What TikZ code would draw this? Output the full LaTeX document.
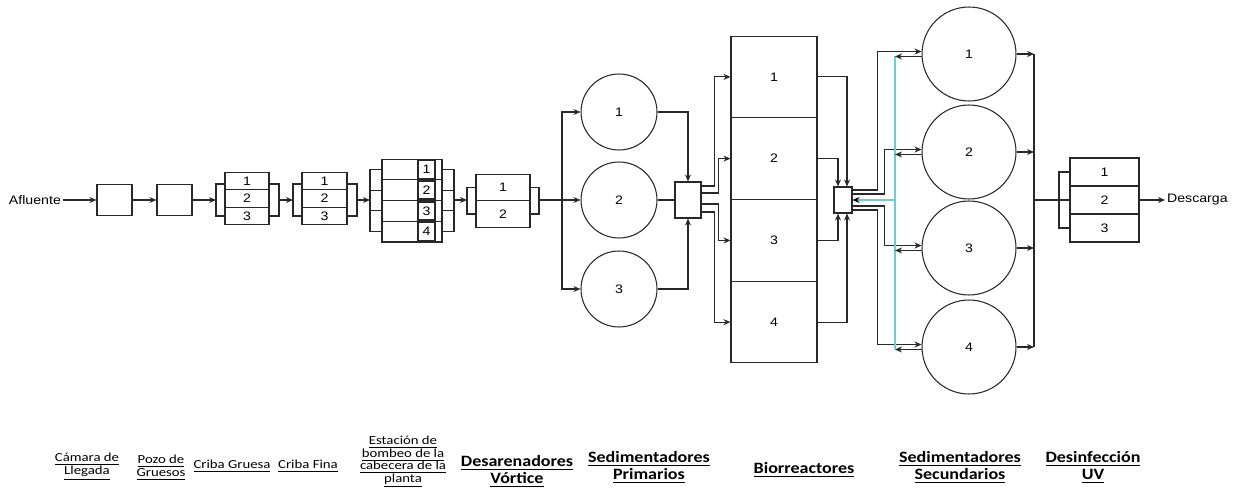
\documentclass[tikz,border=0pt]{standalone}
\usepackage{fontspec}
\usetikzlibrary{arrows.meta, positioning, calc}
\newfontfamily\diafont[FakeStretch=1.15]{Liberation Sans}
\newfontfamily\lblfont[FakeStretch=1.2]{Carlito}
\newfontfamily\lblbigfont[FakeStretch=1.14]{Carlito}
\definecolor{pipegray}{RGB}{40,40,40}
\definecolor{recycyan}{RGB}{110,205,205}

\tikzset{
  pipe/.style={draw=pipegray, line width=0.6pt},
  flow/.style={pipe, -{Stealth[length=4pt,width=3.4pt]}},
  recyc/.style={draw=recycyan, line width=0.9pt},
  txt/.style={inner sep=1pt, font=\diafont\fontsize{7}{8}\selectfont},
  cell/.style={draw=pipegray, line width=0.6pt, inner sep=0pt, font=\diafont\fontsize{7}{8}\selectfont},
  numcell/.style={cell, line width=1pt, minimum width=0.34cm, minimum height=0.36cm},
  tankc/.style={cell, circle, minimum size=#1},
  stagelbl/.style={anchor=north, align=center, inner sep=0pt, font=\lblfont\fontsize{7}{7.1}\selectfont},
  stagebig/.style={anchor=north, align=center, inner sep=0pt, font=\lblbigfont\bfseries\fontsize{9}{9.6}\selectfont},
}

\begin{document}
\begin{tikzpicture}[x=0.02cm, y=-0.02cm]
\useasboundingbox (0,0) rectangle (1234,490);

% camara de llegada y pozo de gruesos
\node[txt, anchor=east] (afl) at (63,200) {Afluente};
\node[cell, minimum width=0.7cm, minimum height=0.62cm] (cam) at (114.5,200) {};
\node[cell, minimum width=0.7cm, minimum height=0.62cm] (poz) at (174.5,200) {};
\draw[flow] (afl) -- (cam);
\draw[flow] (cam) -- (poz);

% cribas
\foreach \i/\y in {1/181,2/198.5,3/216}{
  \node[cell, minimum width=0.88cm, minimum height=0.35cm] (cg\i) at (247,\y) {\i};
  \node[cell, minimum width=0.9cm, minimum height=0.35cm] (cf\i) at (324.5,\y) {\i};
}
\coordinate (cgin) at (216,200);
\coordinate (cgout) at (279,200);
\coordinate (cfin) at (293,200);
\coordinate (cfout) at (357,200);
\draw[pipe] (225,184) -| (cgin) |- (225,216);
\draw[pipe] (269,184) -| (cgout) |- (269,216);
\draw[pipe] (302,184) -| (cfin) |- (302,216);
\draw[pipe] (347,184) -| (cfout) |- (347,216);
\draw[flow] (poz) -- (cgin);
\draw[flow] (cgout) -- (cfin);

% bombeo
\foreach \i/\y in {1/169.4,2/190.1,3/210.9,4/231.6}{
  \node[cell, minimum width=1.2cm, minimum height=0.415cm] (bb\i) at (412,\y) {};
  \node[numcell] (bn\i) at (426.5,\y) {\i};
  \draw[pipe] (bb\i.west) -- ++(-12,0) (bb\i.east) -- ++(12,0);
}
\coordinate (bbin) at (370,200);
\coordinate (bbout) at (454,200);
\draw[pipe] (bb1.west -| bbin) -- (bb4.west -| bbin);
\draw[pipe] (bb1.east -| bbout) -- (bb4.east -| bbout);
\draw[flow] (cfout) -- (bbin);

% desarenadores
\foreach \i/\y in {1/187.5,2/214}
  \node[cell, minimum width=1.08cm, minimum height=0.53cm] (ds\i) at (503,\y) {\i};
\coordinate (dsin) at (467,200);
\coordinate (dsout) at (539,200);
\draw[pipe] (ds1.west) -| (dsin) |- (ds2.west);
\draw[pipe] (ds1.east) -| (dsout) |- (ds2.east);
\draw[flow] (bbout) -- (dsin);

% sedimentadores primarios
\coordinate (sp) at (562,200);
\foreach \i/\y in {1/112,2/200,3/289}
  \node[tankc=1.52cm] (ps\i) at (619,\y) {\i};
\draw[pipe] (dsout) -- (sp);
\draw[flow] (sp) -- (ps2);
\draw[flow] (sp) |- (ps1);
\draw[flow] (sp) |- (ps3);
\node[cell, minimum width=0.52cm, minimum height=0.72cm] (mx1) at (688,200) {};
\draw[flow] (ps1) -| (mx1);
\draw[pipe] (ps2) -- (mx1);
\draw[flow] (ps3) -| (mx1);

% biorreactores
\foreach \i/\y in {1/76.9,2/158.6,3/240.4,4/322.1}
  \node[cell, minimum width=1.72cm, minimum height=1.635cm] (bio\i) at (774,\y) {\i};
\draw[flow] (mx1.east |- 0,186) -- ++(13,0) |- (bio1);
\draw[flow] (mx1.east |- 0,193) -- ++(17,0) |- (bio2);
\draw[flow] (mx1.east |- 0,204) -- ++(17,0) |- (bio3);
\draw[flow] (mx1.east |- 0,212) -- ++(13,0) |- (bio4);
\node[cell, minimum width=0.36cm, minimum height=0.52cm] (mx2) at (843,200) {};
\draw[flow] (bio1) -| ([xshift=0.08cm]mx2.north);
\draw[flow] (bio2) -| ([xshift=-0.1cm]mx2.north);
\draw[flow] (bio3) -| ([xshift=-0.1cm]mx2.south);
\draw[flow] (bio4) -| ([xshift=0.08cm]mx2.south);

% sedimentadores secundarios
\foreach \i/\y in {1/54,2/152,3/248,4/347}
  \node[tankc=1.88cm] (ss\i) at (969,\y) {\i};
\draw[flow] (mx2.east |- 0,190) -- ++(25,0) |- (ss1.177);
\draw[flow] (mx2.east |- 0,194) -- ++(32,0) |- (ss2.177);
\draw[flow] (mx2.east |- 0,206) -- ++(32,0) |- (ss3.177);
\draw[flow] (mx2.east |- 0,210) -- ++(25,0) |- (ss4.177);
\coordinate (rc) at (895,200);
\draw[recyc] (ss1.183 -| rc) -- (ss4.183 -| rc);
\draw[recyc, -{Stealth[length=4pt,width=3.4pt,black]}] (rc) -- (mx2);
\foreach \i in {1,...,4}
  \draw[flow] (ss\i.183) -- (ss\i.183 -| rc);

% desinfeccion UV
\coordinate (col) at (1034,200);
\foreach \i in {1,...,4}
  \draw[flow] (ss\i) -- (ss\i -| col);
\draw[pipe] (ss1 -| col) -- (ss4 -| col);
\foreach \i/\y in {1/172,2/200,3/228}
  \node[cell, minimum width=1.38cm, minimum height=0.56cm] (uv\i) at (1104.5,\y) {\i};
\coordinate (uvin) at (1059,200);
\draw[pipe] (col) -- (uv2);
\draw[pipe] (uv1.west) -| (uvin) |- (uv3.west);
\node[txt, anchor=west] (dsc) at (1165,200) {Descarga};
\draw[flow] (uv2) -- (dsc);

% etiquetas
\node[stagelbl] (lcam) at (87,453) {\underline{Cámara de}\\\underline{Llegada}};
\node[stagelbl] (lpoz) at (161,455) {\underline{Pozo de}\\\underline{Gruesos}};
\node[stagelbl] (lcg) at (232,460) {\underline{Criba Gruesa}};
\node[stagelbl] (lcf) at (308,460) {\underline{Criba Fina}};
\node[stagelbl] (lbb) at (403,436) {\underline{Estación de}\\\underline{bombeo de la}\\\underline{cabecera de la}\\\underline{planta}};
\node[stagebig] (lds) at (517,455) {\underline{Desarenadores}\\\underline{Vórtice}};
\node[stagebig] (lps) at (649,451) {\underline{Sedimentadores}\\\underline{Primarios}};
\node[stagebig] (lbio) at (804,462) {\underline{Biorreactores}};
\node[stagebig] (lss) at (960,451) {\underline{Sedimentadores}\\\underline{Secundarios}};
\node[stagebig] (luv) at (1093,451) {\underline{Desinfección}\\\underline{UV}};
\end{tikzpicture}
\end{document}
